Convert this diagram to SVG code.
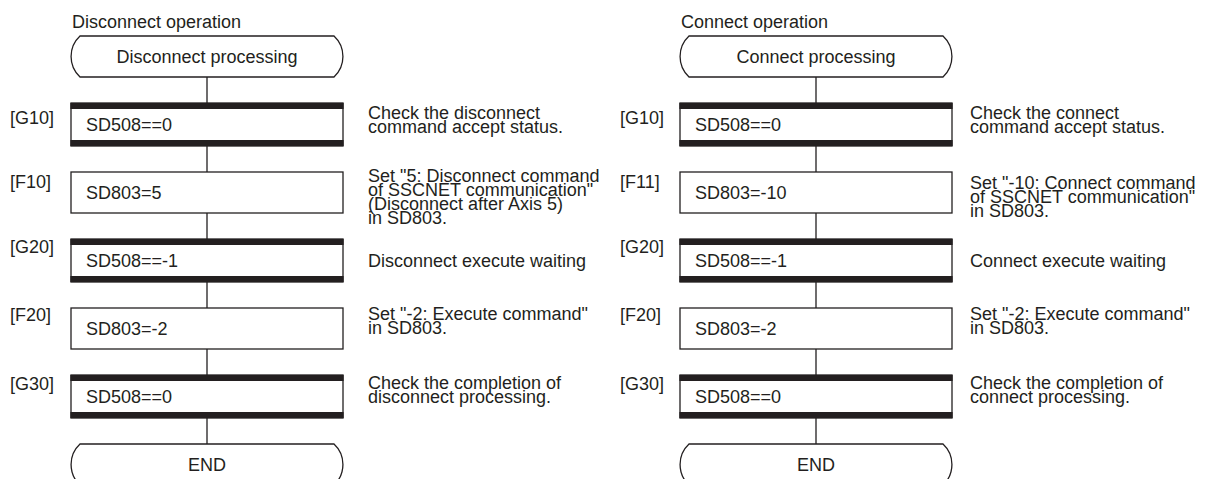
<svg xmlns="http://www.w3.org/2000/svg" width="1217" height="479" viewBox="0 0 1217 479">
<defs>
<style>
text{font-family:"Liberation Sans",Arial,sans-serif;font-size:18px;fill:#231f20}
.mid{text-anchor:middle}
.box{fill:#fff;stroke:#231f20;stroke-width:1.3}
.bar{fill:#231f20}
.term{fill:#fff;stroke:#231f20;stroke-width:1.3}
.con{stroke:#231f20;stroke-width:1.3;fill:none}
</style>
</defs>
<rect width="1217" height="479" fill="#fff"/>

<g id="connectors">
<path class="con" d="M207,77 V103 M207,146 V172 M207,213 V239 M207,282 V308 M207,349 V375 M207,418 V444"/>
<path class="con" d="M816,77 V103 M816,146 V172 M816,213 V239 M816,282 V308 M816,349 V375 M816,418 V444"/>
</g>

<!-- Left: Disconnect operation -->
<g id="title-disconnect"><text x="72" y="28">Disconnect operation</text></g>
<g id="L-start">
<path class="term" d="M80,36 H334 A28,28 0 0 1 334,77 H80 A28,28 0 0 1 80,36 Z"/>
<text class="mid" x="207" y="63">Disconnect processing</text>
</g>
<g id="L-G10">
<rect class="box" x="71" y="103" width="272" height="43"/>
<rect class="bar" x="70.4" y="103" width="273.2" height="6"/>
<rect class="bar" x="70.4" y="140" width="273.2" height="6"/>
<text x="86" y="131">SD508==0</text>
<text x="10" y="124">[G10]</text>
<text x="368" y="119">Check the disconnect</text>
<text x="368" y="133">command accept status.</text>
</g>
<g id="L-F10">
<rect class="box" x="71" y="172" width="272" height="41"/>
<text x="86" y="199">SD803=5</text>
<text x="10" y="188">[F10]</text>
<text x="368" y="182">Set "5: Disconnect command</text>
<text x="368" y="196">of SSCNET communication"</text>
<text x="368" y="210">(Disconnect after Axis 5)</text>
<text x="368" y="224">in SD803.</text>
</g>
<g id="L-G20">
<rect class="box" x="71" y="239" width="272" height="43"/>
<rect class="bar" x="70.4" y="239" width="273.2" height="6"/>
<rect class="bar" x="70.4" y="276" width="273.2" height="6"/>
<text x="86" y="267">SD508==-1</text>
<text x="10" y="253">[G20]</text>
<text x="368" y="267">Disconnect execute waiting</text>
</g>
<g id="L-F20">
<rect class="box" x="71" y="308" width="272" height="41"/>
<text x="86" y="335">SD803=-2</text>
<text x="10" y="321">[F20]</text>
<text x="368" y="320">Set "-2: Execute command"</text>
<text x="368" y="334">in SD803.</text>
</g>
<g id="L-G30">
<rect class="box" x="71" y="375" width="272" height="43"/>
<rect class="bar" x="70.4" y="375" width="273.2" height="6"/>
<rect class="bar" x="70.4" y="412" width="273.2" height="6"/>
<text x="86" y="403">SD508==0</text>
<text x="10" y="390">[G30]</text>
<text x="368" y="389">Check the completion of</text>
<text x="368" y="403">disconnect processing.</text>
</g>
<g id="L-end">
<path class="term" d="M80,444 H334 A28,28 0 0 1 334,485 H80 A28,28 0 0 1 80,444 Z"/>
<text class="mid" x="207" y="471">END</text>
</g>

<!-- Right: Connect operation -->
<g id="title-connect"><text x="681" y="28">Connect operation</text></g>
<g id="R-start">
<path class="term" d="M689,36 H943 A28,28 0 0 1 943,77 H689 A28,28 0 0 1 689,36 Z"/>
<text class="mid" x="816" y="63">Connect processing</text>
</g>
<g id="R-G10">
<rect class="box" x="680" y="103" width="272" height="43"/>
<rect class="bar" x="679.4" y="103" width="273.2" height="6"/>
<rect class="bar" x="679.4" y="140" width="273.2" height="6"/>
<text x="695" y="131">SD508==0</text>
<text x="620" y="124">[G10]</text>
<text x="970" y="119">Check the connect</text>
<text x="970" y="133">command accept status.</text>
</g>
<g id="R-F11">
<rect class="box" x="680" y="172" width="272" height="41"/>
<text x="695" y="199">SD803=-10</text>
<text x="620" y="188">[F11]</text>
<text x="970" y="189">Set "-10: Connect command</text>
<text x="970" y="203">of SSCNET communication"</text>
<text x="970" y="217">in SD803.</text>
</g>
<g id="R-G20">
<rect class="box" x="680" y="239" width="272" height="43"/>
<rect class="bar" x="679.4" y="239" width="273.2" height="6"/>
<rect class="bar" x="679.4" y="276" width="273.2" height="6"/>
<text x="695" y="267">SD508==-1</text>
<text x="620" y="253">[G20]</text>
<text x="970" y="267">Connect execute waiting</text>
</g>
<g id="R-F20">
<rect class="box" x="680" y="308" width="272" height="41"/>
<text x="695" y="335">SD803=-2</text>
<text x="620" y="321">[F20]</text>
<text x="970" y="320">Set "-2: Execute command"</text>
<text x="970" y="334">in SD803.</text>
</g>
<g id="R-G30">
<rect class="box" x="680" y="375" width="272" height="43"/>
<rect class="bar" x="679.4" y="375" width="273.2" height="6"/>
<rect class="bar" x="679.4" y="412" width="273.2" height="6"/>
<text x="695" y="403">SD508==0</text>
<text x="620" y="390">[G30]</text>
<text x="970" y="389">Check the completion of</text>
<text x="970" y="403">connect processing.</text>
</g>
<g id="R-end">
<path class="term" d="M689,444 H943 A28,28 0 0 1 943,485 H689 A28,28 0 0 1 689,444 Z"/>
<text class="mid" x="816" y="471">END</text>
</g>
</svg>
